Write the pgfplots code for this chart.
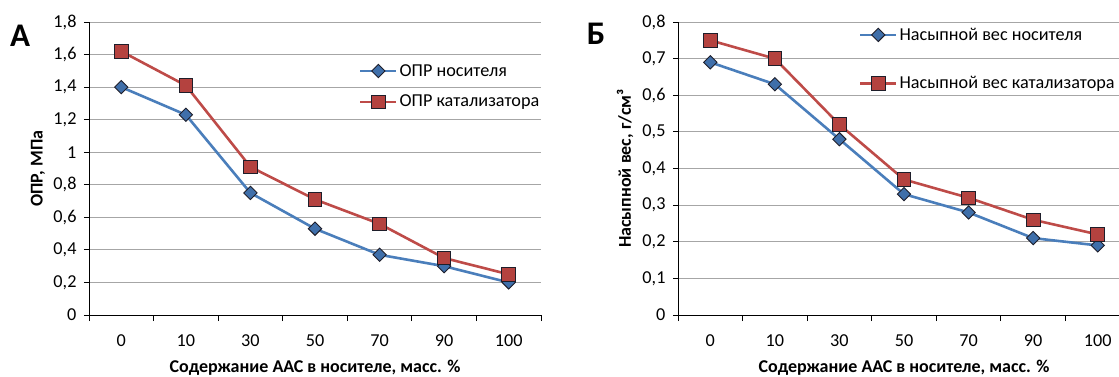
\documentclass[border=0pt]{standalone}
\usepackage{pgfplots}
\pgfplotsset{compat=1.18}
\usepackage{fontspec}
\setmainfont{Carlito}

\definecolor{serblue}{HTML}{4A7EBB}
\definecolor{serred}{HTML}{BE4B48}
\definecolor{mkblue}{HTML}{3F6FAA}
\definecolor{mkred}{HTML}{B4423F}
\definecolor{mkedge}{HTML}{1E1E2A}
\definecolor{gridgray}{HTML}{A6A6A6}

\newcommand{\ticksize}{\fontsize{18.2}{21}\selectfont}
\newcommand{\labelsize}{\fontsize{18}{21}\selectfont}

\pgfplotsset{
  panel/.style={
    scale only axis, width=452pt, height=293pt,
    xmin=-0.5, xmax=6.5, ymin=0,
    axis x line*=bottom, axis y line*=left,
    axis line style={black, line width=0.9pt},
    xtick={0,...,6}, xticklabels={0,10,30,50,70,90,100},
    minor xtick={-0.5,0.5,...,6.5},
    major x tick style={draw=none},
    minor x tick style={black, line width=0.9pt},
    minor tick length=6pt, major tick length=5pt,
    tick align=outside,
    ytick style={black, line width=0.9pt},
    ymajorgrids, grid style={gridgray, line width=0.8pt},
    tick label style={font=\ticksize},
    xticklabel style={yshift=-11pt},
    yticklabel style={xshift=-4pt},
    label style={font=\bfseries\labelsize},
    xlabel={Содержание ААС в носителе, масс. \%},
    xlabel style={at={(rel axis cs:0.5,-0.18)}, anchor=center},
    legend style={draw=none, fill=none, font=\ticksize, cells={anchor=west},
      inner sep=0pt},
    legend image code/.code={%
      \draw[#1, mark repeat=2, mark phase=2]
        plot coordinates {(0pt,0pt) (18pt,0pt) (36pt,0pt)};},
  },
  carrier/.style={serblue, line width=2.6pt, mark=square*, mark size=4.7pt,
    mark options={rotate=45, fill=mkblue, draw=mkedge, line width=0.9pt, solid}},
  catalyst/.style={serred, line width=2.6pt, mark=square*, mark size=6.8pt,
    mark options={fill=mkred, draw=mkedge, line width=0.9pt, solid}},
}

\begin{document}
\begin{tikzpicture}
\useasboundingbox (0pt,-376pt) rectangle (1119pt,0pt);

% Panel A: crush strength
\begin{axis}[panel, at={(89pt,-315pt)}, anchor=south west,
  ymax=1.8,
  ytick={0,0.2,0.4,0.6,0.8,1,1.2,1.4,1.6,1.8},
  yticklabels={0,{0,2},{0,4},{0,6},{0,8},1,{1,2},{1,4},{1,6},{1,8}},
  ylabel={ОПР, МПа},
  ylabel style={at={(rel axis cs:-0.113,0.5)}, anchor=center},
  legend style={at={(rel axis cs:0.597,0.863)}, anchor=north west, row sep=13.5pt},
]
\addplot[carrier] coordinates {(0,1.40) (1,1.23) (2,0.75) (3,0.53) (4,0.37) (5,0.30) (6,0.20)};
\addlegendentry{ОПР носителя}
\addplot[catalyst] coordinates {(0,1.62) (1,1.41) (2,0.91) (3,0.71) (4,0.56) (5,0.35) (6,0.25)};
\addlegendentry{ОПР катализатора}
\end{axis}

% Panel B: bulk density
\begin{axis}[panel, at={(678pt,-315pt)}, anchor=south west,
  ymax=0.8,
  ytick={0,0.1,0.2,0.3,0.4,0.5,0.6,0.7,0.8},
  yticklabels={0,{0,1},{0,2},{0,3},{0,4},{0,5},{0,6},{0,7},{0,8}},
  ylabel={Насыпной вес, г/см³},
  ylabel style={at={(rel axis cs:-0.117,0.5)}, anchor=center},
  legend style={at={(rel axis cs:0.400,0.987)}, anchor=north west, row sep=30.5pt},
]
\addplot[carrier] coordinates {(0,0.69) (1,0.63) (2,0.48) (3,0.33) (4,0.28) (5,0.21) (6,0.19)};
\addlegendentry{Насыпной вес носителя}
\addplot[catalyst] coordinates {(0,0.75) (1,0.70) (2,0.52) (3,0.37) (4,0.32) (5,0.26) (6,0.22)};
\addlegendentry{Насыпной вес катализатора}
\end{axis}

\node[font=\bfseries\fontsize{33}{36}\selectfont] at (20pt,-36pt) {А};
\node[font=\bfseries\fontsize{33}{36}\selectfont] at (596pt,-34pt) {Б};
\end{tikzpicture}
\end{document}
